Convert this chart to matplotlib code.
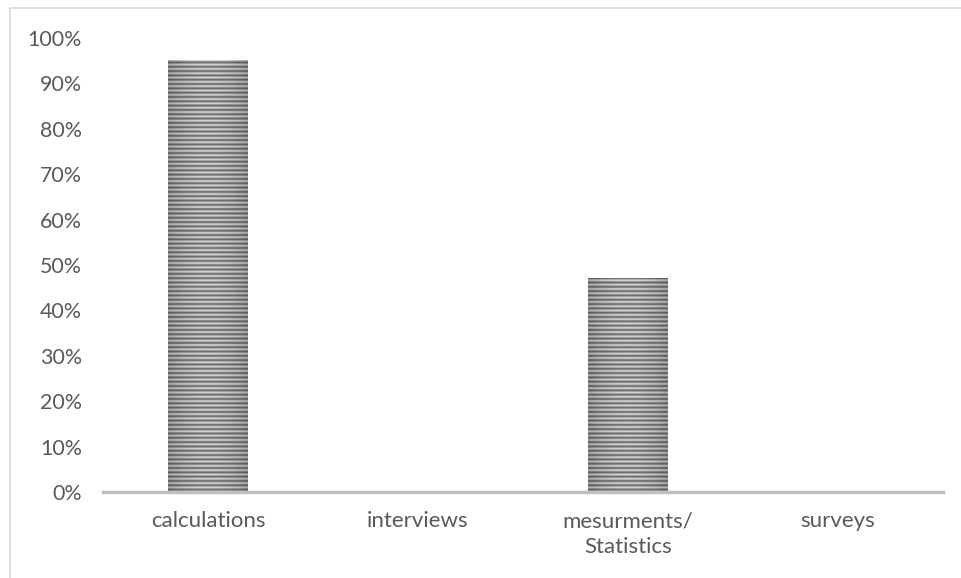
import numpy as np
import matplotlib
matplotlib.use('Agg')
import matplotlib.pyplot as plt
from matplotlib.patches import Rectangle
from matplotlib.ticker import PercentFormatter

categories = ['calculations', 'interviews', 'mesurments/\nStatistics', 'surveys']
shares = [0.95, 0.0, 0.47, 0.0]
y_ticks = [0.0, 0.1, 0.2, 0.3, 0.4, 0.5, 0.6, 0.7, 0.8, 0.9, 1.0]

text_color = '#595959'
plt.rcParams['font.family'] = ['Lato', 'DejaVu Sans']

fig = plt.figure(figsize=(9.62, 5.78), dpi=100)
# outer frame, only the top and left edges fall inside the canvas
fig.patches.append(Rectangle((10 / 962, -0.1), 1.2, 1.1 - 8 / 578, transform=fig.transFigure,
                             fill=False, edgecolor='#d9d9d9', linewidth=1.2))

ax = fig.add_axes([103 / 962, 1 - 492 / 578, 840 / 962, 454 / 578])
x = np.arange(len(categories))
bar_w = 0.38


def striped_fill(ax, xc, h):
    # horizontal stripes, lighter in the middle of the bar
    if h <= 0:
        return
    rows = int(h * 100 * 8)
    yy = np.linspace(0, h, rows)
    stripe = 0.5 + 0.5 * np.cos(2 * np.pi * yy / 0.0095)
    xx = np.linspace(-1, 1, 60)
    shade = 1 - 0.18 * xx ** 2
    dark, light = 0.40, 0.86
    val = (dark + (light - dark) * stripe)[:, None] * shade[None, :]
    img = np.dstack([val, val, val])
    ax.imshow(img, extent=(xc - bar_w / 2, xc + bar_w / 2, 0, h), origin='lower',
              aspect='auto', interpolation='bilinear', zorder=2)


bars = ax.bar(x, shares, width=bar_w, color='none', zorder=3)
for xc, h in zip(x, shares):
    striped_fill(ax, xc, h)

ax.set_xlim(-0.5, len(categories) - 0.5)
ax.set_ylim(0, 1.0)
ax.set_yticks(y_ticks)
ax.yaxis.set_major_formatter(PercentFormatter(1.0, decimals=0))
ax.set_xticks(x)
ax.set_xticklabels(categories, linespacing=1.35)
ax.tick_params(axis='y', length=0, colors=text_color, labelsize=15.4, pad=15)
ax.tick_params(axis='x', length=0, colors=text_color, labelsize=16, pad=14)

for side in ['top', 'right', 'left']:
    ax.spines[side].set_visible(False)
ax.spines['bottom'].set_color('#bfbfbf')
ax.spines['bottom'].set_linewidth(2.5)
ax.spines['bottom'].set_zorder(4)

fig.savefig('out.png', dpi=100)
